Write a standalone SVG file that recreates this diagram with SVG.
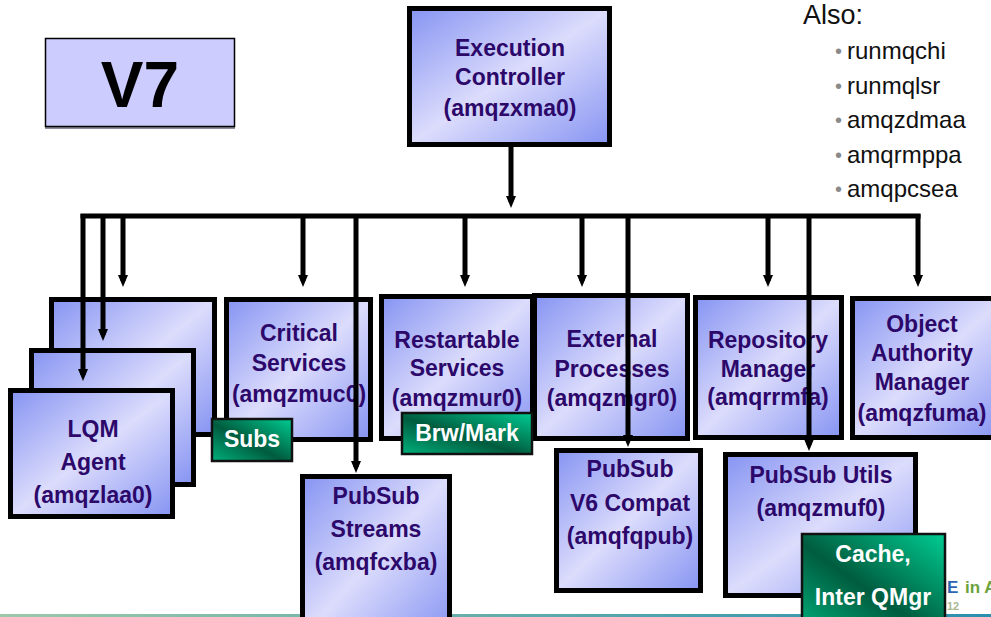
<svg xmlns="http://www.w3.org/2000/svg" width="991" height="617" viewBox="0 0 991 617">
  <defs>
    <style>
      .box { fill: url(#blueFill); stroke: #000; stroke-width: 5; }
      .tagbox { fill: url(#greenFill); stroke: #111; stroke-width: 2.5; }
      .lbl { font-family: "Liberation Sans", Arial, sans-serif; font-weight: bold; font-size: 23px; fill: #2c086a; text-anchor: middle; }
      .tag { font-family: "Liberation Sans", Arial, sans-serif; font-weight: bold; font-size: 23px; fill: #ffffff; text-anchor: middle; }
      .note { font-family: "Liberation Sans", Arial, sans-serif; font-size: 24px; fill: #111; }
      .bullet { fill: #8a8a8a; font-size: 20px; }
      .wire { stroke: #000; stroke-width: 5; fill: none; }
      .drop { stroke: #000; stroke-width: 5; fill: none; marker-end: url(#arrow); }
    </style>
    <linearGradient id="blueFill" x1="0" y1="0" x2="1" y2="1">
      <stop offset="0" stop-color="#8694f2"/>
      <stop offset="0.5" stop-color="#dcdcfc"/>
      <stop offset="1" stop-color="#8694f2"/>
    </linearGradient>
    <linearGradient id="greenFill" x1="1" y1="0" x2="0" y2="1">
      <stop offset="0" stop-color="#00cc92"/>
      <stop offset="0.55" stop-color="#005c3e"/>
      <stop offset="1" stop-color="#00b07c"/>
    </linearGradient>
    <linearGradient id="footLine" x1="0" y1="0" x2="1" y2="0">
      <stop offset="0" stop-color="#9cc9aa"/>
      <stop offset="1" stop-color="#2a8fae"/>
    </linearGradient>
    <marker id="arrow" markerUnits="userSpaceOnUse" markerWidth="12" markerHeight="10" viewBox="0 0 12 10" refX="6" refY="5" orient="auto">
      <path d="M0,0 L12,5 L0,10 z" fill="#000"/>
    </marker>
  </defs>

  <rect width="991" height="617" fill="#fff"/>

  <!-- footer rule and logo fragment -->
  <rect x="0" y="614" width="991" height="3" fill="url(#footLine)"/>
  <text font-family="Liberation Sans, Arial, sans-serif" font-weight="bold" font-size="17"><tspan x="947" y="593" fill="#2a66b0">E</tspan><tspan x="965" y="593" fill="#6aa23c">in A</tspan></text>
  <text x="947" y="610" font-family="Liberation Sans, Arial, sans-serif" font-weight="bold" font-size="11" fill="#a9b894">12</text>

  <!-- version badge -->
  <g id="v7">
    <rect x="45" y="40" width="190" height="89" fill="#8a8a9a"/>
    <rect x="45.5" y="38.5" width="189" height="88" fill="#ccccff" stroke="#000" stroke-width="1.5"/>
    <text x="140" y="107" font-family="Liberation Sans, Arial, sans-serif" font-weight="bold" font-size="64" text-anchor="middle" fill="#000">V7</text>
  </g>

  <!-- extra processes list -->
  <g id="also">
    <text x="803" y="24" font-family="Liberation Sans, Arial, sans-serif" font-size="27" fill="#111">Also:</text>
    <text class="note"><tspan class="bullet" x="835" y="58">•</tspan><tspan x="847" y="59">runmqchi</tspan></text>
    <text class="note"><tspan class="bullet" x="835" y="93">•</tspan><tspan x="847" y="94">runmqlsr</tspan></text>
    <text class="note"><tspan class="bullet" x="835" y="127">•</tspan><tspan x="847" y="128">amqzdmaa</tspan></text>
    <text class="note"><tspan class="bullet" x="835" y="162">•</tspan><tspan x="847" y="163">amqrmppa</tspan></text>
    <text class="note"><tspan class="bullet" x="835" y="196">•</tspan><tspan x="847" y="197">amqpcsea</tspan></text>
  </g>

  <!-- process boxes -->
  <g id="exec-controller">
    <rect class="box" x="409.5" y="8.5" width="200" height="136"/>
    <text class="lbl" x="510" y="56">Execution</text>
    <text class="lbl" x="510" y="85">Controller</text>
    <text class="lbl" x="510" y="116">(amqzxma0)</text>
  </g>

  <g id="lqm-agent-3">
    <rect class="box" x="51.5" y="299.5" width="163" height="135"/>
  </g>
  <g id="lqm-agent-2">
    <rect class="box" x="31.5" y="350.5" width="162" height="134"/>
  </g>
  <g id="lqm-agent">
    <rect class="box" x="10.5" y="390.5" width="162" height="126"/>
    <text class="lbl" x="93" y="437">LQM</text>
    <text class="lbl" x="93" y="470">Agent</text>
    <text class="lbl" x="93" y="503">(amqzlaa0)</text>
  </g>

  <g id="critical-services">
    <rect class="box" x="226.5" y="299.5" width="144" height="140"/>
    <text class="lbl" x="299" y="341">Critical</text>
    <text class="lbl" x="299" y="371">Services</text>
    <text class="lbl" x="299" y="402">(amqzmuc0)</text>
  </g>

  <g id="restartable-services">
    <rect class="box" x="381.5" y="296.5" width="151" height="142"/>
    <text class="lbl" x="457" y="348">Restartable</text>
    <text class="lbl" x="457" y="376">Services</text>
    <text class="lbl" x="457" y="406">(amqzmur0)</text>
  </g>

  <g id="external-processes">
    <rect class="box" x="534.5" y="295.5" width="153" height="143"/>
    <text class="lbl" x="612" y="347">External</text>
    <text class="lbl" x="612" y="377">Processes</text>
    <text class="lbl" x="612" y="406">(amqzmgr0)</text>
  </g>

  <g id="repository-manager">
    <rect class="box" x="695.5" y="297.5" width="146" height="140"/>
    <text class="lbl" x="768" y="348">Repository</text>
    <text class="lbl" x="768" y="377">Manager</text>
    <text class="lbl" x="768" y="405">(amqrrmfa)</text>
  </g>

  <g id="object-authority-manager">
    <rect class="box" x="852.5" y="298.5" width="150" height="139"/>
    <text class="lbl" x="922" y="332">Object</text>
    <text class="lbl" x="922" y="361">Authority</text>
    <text class="lbl" x="922" y="390">Manager</text>
    <text class="lbl" x="922" y="421">(amqzfuma)</text>
  </g>

  <g id="pubsub-streams">
    <rect class="box" x="302.5" y="476.5" width="147" height="160"/>
    <text class="lbl" x="376" y="504">PubSub</text>
    <text class="lbl" x="376" y="537">Streams</text>
    <text class="lbl" x="376" y="570">(amqfcxba)</text>
  </g>

  <g id="pubsub-v6-compat">
    <rect class="box" x="556.5" y="450.5" width="144" height="140"/>
    <text class="lbl" x="630" y="477">PubSub</text>
    <text class="lbl" x="630" y="511">V6 Compat</text>
    <text class="lbl" x="630" y="544">(amqfqpub)</text>
  </g>

  <g id="pubsub-utils">
    <rect class="box" x="725.5" y="454.5" width="190" height="141"/>
    <text class="lbl" x="821" y="483">PubSub Utils</text>
    <text class="lbl" x="821" y="516">(amqzmuf0)</text>
  </g>

  <!-- connectors -->
  <g id="connectors">
    <line class="drop" x1="511" y1="145" x2="511" y2="202"/>
    <line class="wire" x1="80.5" y1="216" x2="920.5" y2="216"/>
    <line class="drop" x1="83" y1="214" x2="83" y2="375"/>
    <line class="drop" x1="103" y1="214" x2="103" y2="335"/>
    <line class="drop" x1="123" y1="214" x2="123" y2="281"/>
    <line class="drop" x1="303" y1="214" x2="303" y2="281"/>
    <line class="drop" x1="356" y1="214" x2="356" y2="467"/>
    <line class="drop" x1="465" y1="214" x2="465" y2="281"/>
    <line class="drop" x1="582" y1="214" x2="582" y2="281"/>
    <line class="drop" x1="628" y1="214" x2="628" y2="441"/>
    <line class="drop" x1="768" y1="214" x2="768" y2="281"/>
    <line class="drop" x1="809" y1="214" x2="809" y2="445"/>
    <line class="drop" x1="918" y1="214" x2="918" y2="281"/>
  </g>

  <!-- sub-component tags -->
  <g id="subs">
    <rect class="tagbox" x="212" y="419" width="80" height="42"/>
    <text class="tag" x="252" y="447">Subs</text>
  </g>
  <g id="brw-mark">
    <rect class="tagbox" x="402" y="413" width="130" height="41"/>
    <text class="tag" x="467" y="441">Brw/Mark</text>
  </g>
  <g id="cache-inter-qmgr">
    <rect class="tagbox" x="802" y="534" width="143" height="100"/>
    <text class="tag" x="873" y="562">Cache,</text>
    <text class="tag" x="873" y="605">Inter QMgr</text>
  </g>
</svg>
